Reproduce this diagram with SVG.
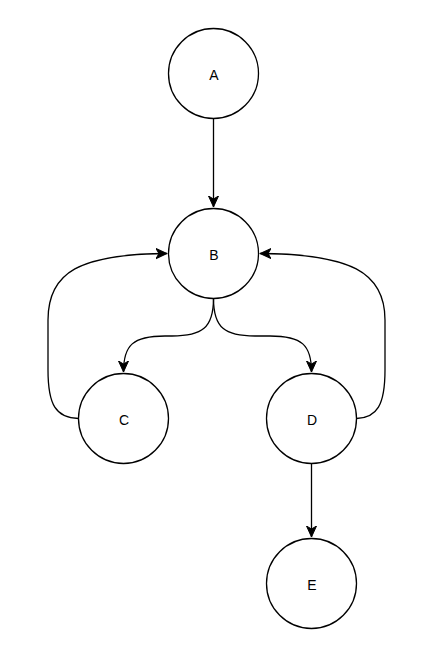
<svg xmlns="http://www.w3.org/2000/svg" width="444" height="652" viewBox="0 0 444 652">
<style>
.node circle{fill:#fff;stroke:#000;stroke-width:1.3}
.node text{font-family:"Liberation Sans",Arial,sans-serif;font-size:14px;text-anchor:middle;dominant-baseline:central;fill:#000}
.edge{fill:none;stroke:#000;stroke-width:1.3}
</style>
<defs>
<marker id="arr" markerUnits="userSpaceOnUse" markerWidth="12" markerHeight="12" viewBox="0 0 12 12" refX="11" refY="6" orient="auto">
<path d="M0,1 L11,6 L0,11 L3,6 z" fill="#000" stroke="#000" stroke-width="1"/>
</marker>
</defs>
<rect width="444" height="652" fill="#fff"/>
<g id="connectors">
<path class="edge" d="M213.5,118.5 L213.5,207" marker-end="url(#arr)"/>
<path class="edge" d="M213.5,298.5 C213.5,328 202,336 172,336 L165,336 C133,336 123.5,345 123.5,372" marker-end="url(#arr)"/>
<path class="edge" d="M213.5,298.5 C213.5,328 225,336 255,336 L270,336 C302,336 311.5,345 311.5,372" marker-end="url(#arr)"/>
<path class="edge" d="M78.5,418.5 C56,418 48,405 48,370 L48,320 C48,272 80,254 167,253.5" marker-end="url(#arr)"/>
<path class="edge" d="M356.5,418.5 C377,418 385,405 385,370 L385,320 C385,272 350,254 260,253.5" marker-end="url(#arr)"/>
<path class="edge" d="M311.5,463.5 L311.5,537" marker-end="url(#arr)"/>
</g>
<g id="A" class="node"><circle cx="213.5" cy="73.5" r="45"/><text x="214" y="75">A</text></g>
<g id="B" class="node"><circle cx="213.5" cy="253.5" r="45"/><text x="214" y="255">B</text></g>
<g id="C" class="node"><circle cx="123.5" cy="418.5" r="45"/><text x="124" y="420">C</text></g>
<g id="D" class="node"><circle cx="311.5" cy="418.5" r="45"/><text x="312" y="420">D</text></g>
<g id="E" class="node"><circle cx="311.5" cy="583.5" r="45"/><text x="312" y="585">E</text></g>
</svg>
